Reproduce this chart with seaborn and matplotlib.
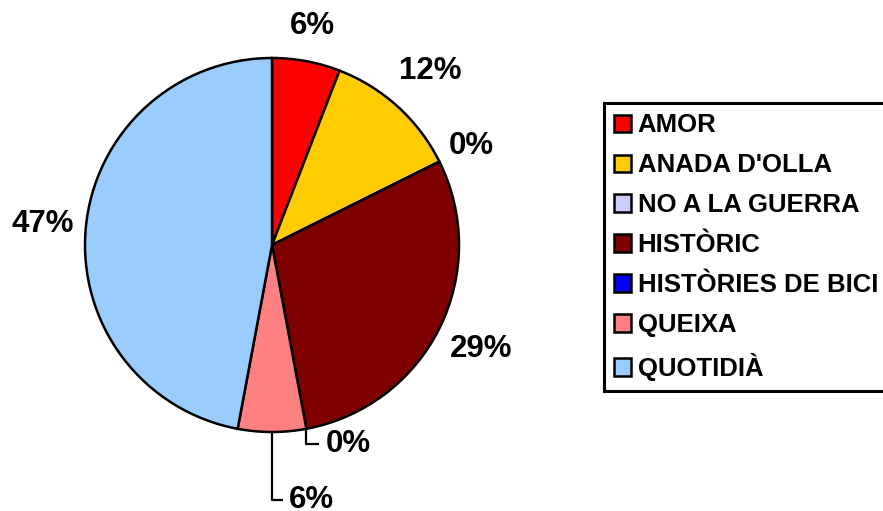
import numpy as np
import matplotlib
matplotlib.use("Agg")
import matplotlib.pyplot as plt
import seaborn as sns

categories = ["AMOR", "ANADA D'OLLA", "NO A LA GUERRA", "HISTÒRIC",
              "HISTÒRIES DE BICI", "QUEIXA", "QUOTIDIÀ"]
counts = [1, 2, 0, 5, 0, 1, 8]
colors = ["#FF0000", "#FFCC00", "#CCCCFF", "#800000",
          "#0000FF", "#FF8080", "#99CCFF"]

sns.set_theme(style="white")
plt.rcParams['font.family'] = ['Liberation Sans', 'DejaVu Sans']
plt.rcParams['font.weight'] = 'bold'
plt.rcParams['text.color'] = 'black'

fig = plt.figure(figsize=(8.83, 5.11), dpi=100)
ax = fig.add_axes([0, 0, 1, 1])

# pie drawn in pixel-like units (y up)
cx, cy, R = 272, 266, 187
wedges, _ = ax.pie(counts, colors=colors, startangle=90, counterclock=False,
                   center=(cx, cy), radius=R,
                   wedgeprops=dict(edgecolor='black', linewidth=1.8))
ax.set_xlim(0, 883)
ax.set_ylim(0, 511)
ax.axis('off')

total = sum(counts)
# radial distance factor of each outside label
label_r = {"AMOR": 1.19, "ANADA D'OLLA": 1.26, "NO A LA GUERRA": 1.19,
           "HISTÒRIC": 1.25, "QUOTIDIÀ": 1.23}
# labels with leader lines: (drop, run)
leaders = {"HISTÒRIES DE BICI": (15, 13), "QUEIXA": (68, 11)}

for w, cat, c in zip(wedges, categories, counts):
    pct = f"{round(100 * c / total):.0f}%"
    mid = np.deg2rad((w.theta1 + w.theta2) / 2)
    if cat in leaders:
        drop, run = leaders[cat]
        ex, ey = cx + R * np.cos(mid), cy + R * np.sin(mid)
        ax.plot([ex, ex, ex + run], [ey, ey - drop, ey - drop],
                color='black', lw=1.6, solid_capstyle='butt')
        ax.text(ex + run + 6, ey - drop, pct, ha='left', va='center',
                fontsize=22.5, fontweight='bold', color='black')
    else:
        r = R * label_r[cat]
        ax.text(cx + r * np.cos(mid), cy + r * np.sin(mid), pct,
                ha='center', va='center', fontsize=22.5, fontweight='bold',
                color='black')

leg = ax.legend(wedges, categories, loc='upper left',
                bbox_to_anchor=(604 / 883, 1 - 103 / 511),
                fontsize=18.5, frameon=True, fancybox=False, shadow=False,
                framealpha=1, edgecolor='black',
                handlelength=0.66, handleheight=0.66, handletextpad=0.25,
                labelspacing=0.62, borderpad=0.4, borderaxespad=0)
leg.get_frame().set_linewidth(2.2)
for t in leg.get_texts():
    t.set_fontweight('bold')
    t.set_color('black')

fig.savefig("out.png", dpi=100)
